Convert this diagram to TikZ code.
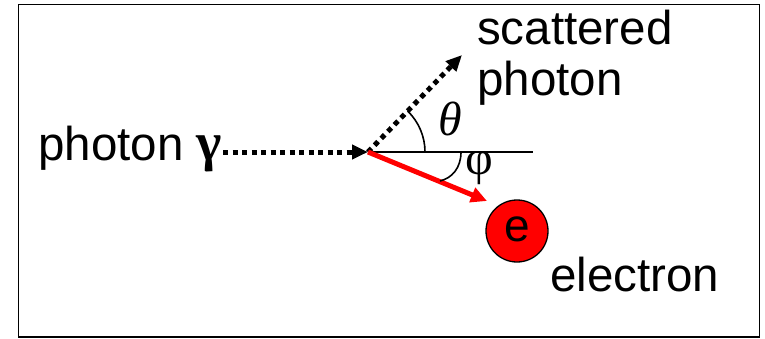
\documentclass[tikz,border=0pt]{standalone}
\usepackage{fontspec}
\setmainfont{Liberation Sans}
\newfontfamily\grk{Liberation Serif}
\usetikzlibrary{arrows.meta}
\tikzset{
  lbl/.style={inner sep=0pt, anchor=base west, font=\fontsize{47.5}{50}\selectfont},
  dotline/.style={line width=5pt, dash pattern=on 5pt off 4.5pt, -{Triangle[length=16pt,width=14pt]}},
  redarrow/.style={red, line width=5pt, -{Triangle[length=16pt,width=15pt]}},
  thin line/.style={line width=1.6pt},
  ball/.style={circle, draw=black, line width=1.3pt, fill=red, minimum size=62pt, inner sep=0pt, font=\fontsize{46}{50}\selectfont}
}
\begin{document}
\begin{tikzpicture}[x=1pt,y=-1pt]
\useasboundingbox (0,0) rectangle (765,338);
\draw[line width=1.8pt] (18.5,4.5) rectangle (759.5,337);
\coordinate (v) at (368,152);
\coordinate (s) at (462,55);
\coordinate (r) at (487,201);
\coordinate (h) at (533,152);
\node[lbl] (inlbl) at (38,160) {photon {\grk\bfseries\fontsize{54}{56}\selectfont γ}};
\node[lbl] (sc1) at (477,44) {scattered};
\node[lbl] (sc2) at (477,95) {photon};
\node[ball] (e) at (517,231) {\raisebox{3pt}{e}};
\node[lbl] (el) at (550,291) {electron};
\draw[thin line] (v) -- (h);
\draw[dotline] (inlbl.east |- v) ++(1,0) coordinate (a0) -- (v);
\draw[dotline] (v) -- (s);
\draw[redarrow] (v) -- (r);
\draw[thin line] (425,152) arc[start angle=0, end angle=-46, radius=57];
\draw[thin line] (461,152) .. controls (461,168) and (452,178) .. (440,181);
\node[lbl, anchor=center, font=\fontsize{48}{50}\selectfont\grk\itshape] (th) at (450,119) {θ};
\node[lbl, anchor=center, font=\fontsize{48}{50}\selectfont\grk] (ph) at (479,168) {φ};
\end{tikzpicture}
\end{document}
